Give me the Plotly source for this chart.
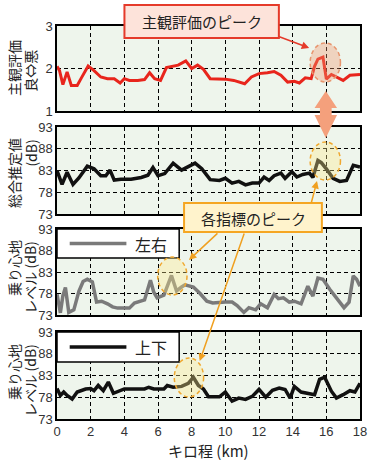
import plotly.graph_objects as go

# ---------------- data ----------------
km_subj = [0, 0.15, 0.35, 0.6, 0.85, 1.2, 1.45, 1.85, 2.2, 2.6, 3.0, 3.4, 3.75, 4.0, 4.3, 4.8,
           5.2, 5.5, 5.8, 6.15, 6.5, 6.9, 7.2, 7.65, 8.0, 8.35, 8.7, 9.1, 9.5, 10.0, 10.5, 10.8,
           11.15, 11.55, 12.0, 12.5, 12.9, 13.3, 13.7, 14.1, 14.4, 14.75, 15.1, 15.3, 15.5, 15.8,
           16.0, 16.3, 16.6, 17.0, 17.4, 18.0]
subj = [2.05, 1.95, 1.62, 1.92, 1.6, 1.6, 1.78, 2.06, 1.95, 1.8, 1.76, 1.76, 1.66, 1.76, 1.72, 1.72,
        1.74, 1.9, 1.76, 1.72, 2.02, 2.06, 2.08, 2.18, 2.0, 2.08, 1.98, 1.76, 1.76, 1.75, 1.72, 1.69,
        1.64, 1.8, 1.88, 1.9, 1.93, 1.84, 1.68, 1.7, 1.66, 1.78, 1.76, 2.05, 2.22, 2.27,
        1.75, 1.86, 1.8, 1.72, 1.84, 1.86]

km_total = [0, 0.3, 0.6, 0.95, 1.3, 1.8, 2.2, 2.6, 2.9, 3.15, 3.4, 3.8, 4.4, 5.0, 5.4, 5.7, 6.0,
            6.4, 6.9, 7.4, 8.2, 8.6, 9.1, 9.65, 10.0, 10.4, 10.8, 11.2, 11.6, 12.0, 12.3, 12.6,
            12.9, 13.3, 13.55, 13.95, 14.25, 14.6, 15.0, 15.2, 15.5, 15.7, 16.0, 16.4, 16.8,
            17.2, 17.6, 18.0]
total = [83.0, 79.8, 82.6, 79.8, 81.3, 84.0, 83.4, 81.8, 81.8, 83.1, 80.8, 81.0, 81.0, 81.4, 81.9,
         83.7, 81.8, 82.3, 84.7, 83.1, 84.7, 83.4, 80.9, 80.7, 81.2, 80.1, 80.5, 79.7, 80.1, 80.1,
         81.5, 80.7, 81.8, 82.4, 81.2, 82.7, 81.5, 82.1, 82.4, 81.4, 85.3, 84.8, 83.4, 81.2, 80.5,
         80.7, 84.2, 83.8]

km_lat = [0, 0.2, 0.35, 0.5, 0.7, 1.0, 1.3, 1.55, 1.8, 2.1, 2.35, 2.65, 3.0, 3.3, 3.6, 4.3, 4.6,
          5.2, 5.55, 5.75, 5.95, 6.35, 6.8, 7.1, 7.4, 7.6, 8.1, 8.5, 8.9, 9.25, 10.0, 10.4, 10.7,
          11.1, 11.4, 11.8, 12.1, 12.5, 12.9, 13.15, 13.45, 13.8, 14.1, 14.5, 14.9, 15.2, 15.5,
          15.8, 16.2, 16.5, 16.8, 17.05, 17.35, 17.6, 17.8, 18.0]
lateral = [77.8, 73.5, 77.5, 79.4, 73.6, 74.2, 78.5, 80.8, 81.3, 80.7, 76.0, 76.2, 75.6, 74.9, 74.6,
           74.6, 75.8, 76.5, 81.1, 78.3, 77.0, 77.6, 82.2, 78.6, 79.5, 80.0, 79.5, 78.0, 76.2, 75.8,
           76.0, 76.0, 75.2, 73.6, 74.7, 74.2, 75.6, 74.7, 77.8, 76.8, 77.0, 76.0, 76.2, 75.6, 79.7,
           77.4, 81.6, 81.3, 79.0, 77.4, 76.0, 74.7, 76.0, 82.1, 81.3, 79.7]

km_vert = [0, 0.2, 0.4, 0.6, 0.9, 1.2, 1.7, 2.0, 2.2, 2.45, 2.75, 3.05, 3.35, 3.7, 4.0, 4.6, 5.2,
           5.45, 5.75, 6.35, 6.55, 6.9, 7.4, 7.8, 8.1, 8.4, 8.7, 9.0, 9.65, 10.0, 10.4, 10.8, 11.2,
           11.6, 12.0, 12.4, 12.8, 13.2, 13.55, 13.85, 14.1, 14.5, 14.9, 15.3, 15.6, 15.9, 16.3,
           16.6, 17.0, 17.4, 17.7, 18.0]
vertical = [80.0, 78.4, 79.2, 78.4, 77.6, 79.2, 79.9, 80.0, 79.5, 80.7, 79.5, 81.5, 78.9, 79.5,
            79.9, 79.9, 79.9, 80.3, 79.9, 79.9, 80.7, 80.3, 80.5, 81.2, 82.6, 80.7, 79.9, 78.1,
            78.1, 79.2, 77.1, 77.8, 77.5, 78.2, 79.8, 78.0, 79.6, 80.1, 79.8, 77.8, 80.5, 79.2,
            78.8, 78.6, 82.1, 82.6, 79.4, 77.8, 78.6, 79.5, 79.2, 81.2]

x_ticks = [0, 2, 4, 6, 8, 10, 12, 14, 16, 18]
subj_ticks = [1, 2, 3]
db_ticks = [73, 78, 83, 88, 93]

# ---------------- layout helpers ----------------
W, H = 376, 465
L, R, T, B = 57, 9, 26, 46
PW = W - L - R
PH = H - T - B


def fx(x):
    return (x - L) / PW


def fy(y):
    return (H - B - y) / PH


panels = [(26, 111), (127, 214), (229, 315), (332, 419)]

JP = "Noto Sans CJK JP"
NUM = "Liberation Sans, Arial, sans-serif"

fig = go.Figure()

series = [
    (km_subj, subj, "#e8251c", 3.0),
    (km_total, total, "#111111", 3.5),
    (km_lat, lateral, "#7a7a7a", 3.5),
    (km_vert, vertical, "#111111", 3.5),
]
for i, (xs, ys, col, w) in enumerate(series, start=1):
    fig.add_trace(go.Scatter(x=xs, y=ys, mode="lines",
                             line=dict(color=col, width=w),
                             xaxis=f"x{i}" if i > 1 else "x",
                             yaxis=f"y{i}" if i > 1 else "y",
                             showlegend=False, hoverinfo="skip"))

grid_common = dict(showline=True, mirror=True, linecolor="black", linewidth=1.5,
                   showgrid=True, gridcolor="black", gridwidth=1.2, griddash="4px,3px",
                   zeroline=False, ticks="", tickfont=dict(family=NUM, size=13, color="#333"))

layout = dict(width=W, height=H, margin=dict(l=L, r=R, t=T, b=B),
              paper_bgcolor="white", plot_bgcolor="#eef5ec", showlegend=False)

for i, (top, bot) in enumerate(panels, start=1):
    xn = "xaxis" if i == 1 else f"xaxis{i}"
    yn = "yaxis" if i == 1 else f"yaxis{i}"
    xa = "x" if i == 1 else f"x{i}"
    ya = "y" if i == 1 else f"y{i}"
    layout[xn] = dict(domain=[0, 1], range=[0, 18], tickvals=x_ticks,
                      showticklabels=(i == 4), anchor=ya, **grid_common)
    if i == 1:
        layout[yn] = dict(domain=[fy(bot), fy(top)], range=[1, 3], tickvals=subj_ticks,
                          anchor=xa, **grid_common)
    else:
        layout[yn] = dict(domain=[fy(bot), fy(top)], range=[73, 93], tickvals=db_ticks,
                          anchor=xa, **grid_common)

fig.update_layout(**layout)

shapes = []
ann = []


def text(x, y, s, size=15, angle=0, color="#222"):
    ann.append(dict(x=fx(x), y=fy(y), xref="paper", yref="paper", text=s, showarrow=False,
                    textangle=angle, xanchor="center", yanchor="middle",
                    font=dict(family=JP, size=size, color=color)))


# y-axis titles
text(13, 68, "主観評価", 14, -90)
text(29, 71, "良⇔悪", 14, -90)
text(13, 173, "総合推定値", 14, -90)
text(30, 153, "(dB)", 14, -90)
text(13, 268, "乗り心地", 14, -90)
text(29, 278, "レベル (dB)", 14, -90)
text(13, 372, "乗り心地", 14, -90)
text(29, 381, "レベル (dB)", 14, -90)
# x-axis title
text(212, 450, "キロ程 (km)", 15)

# legends
for (top, bot, col, lab) in [(229, 258, "#7a7a7a", "左右"), (332, 362, "#111111", "上下")]:
    shapes.append(dict(type="rect", xref="paper", yref="paper", x0=fx(57), x1=fx(182),
                       y0=fy(bot), y1=fy(top), fillcolor="white",
                       line=dict(color="black", width=1.5), layer="above"))
    ym = (top + bot) / 2
    shapes.append(dict(type="line", xref="paper", yref="paper", x0=fx(70), x1=fx(128),
                       y0=fy(ym), y1=fy(ym), line=dict(color=col, width=3.5), layer="above"))
    text(153, ym, lab, 16, 0, "#222")

# ellipses
shapes.append(dict(type="circle", xref="paper", yref="paper", x0=fx(316), x1=fx(347),
                   y0=fy(82), y1=fy(43), fillcolor="rgba(240,150,110,0.35)",
                   line=dict(color="#e8956e", width=1.5, dash="4px,3px"), layer="above"))
for (x0, x1, y0, y1) in [(316, 347, 142, 180), (160, 190, 257, 295), (177, 207, 358, 397)]:
    shapes.append(dict(type="circle", xref="paper", yref="paper", x0=fx(x0), x1=fx(x1),
                       y0=fy(y1), y1=fy(y0), fillcolor="rgba(255,235,140,0.35)",
                       line=dict(color="#f0a830", width=1.5, dash="4px,3px"), layer="above"))

# big double arrow
cx = 332
pts = [(cx, 91), (cx + 11.5, 108), (cx + 6, 108), (cx + 6, 115), (cx + 11.5, 115), (cx, 138),
       (cx - 11.5, 115), (cx - 6, 115), (cx - 6, 108), (cx - 11.5, 108)]
path = "M " + " L ".join(f"{fx(a):.5f},{fy(b):.5f}" for a, b in pts) + " Z"
shapes.append(dict(type="path", xref="paper", yref="paper", path=path,
                   fillcolor="#f4a07c", line=dict(width=0), layer="above"))

# annotation boxes
shapes.append(dict(type="rect", xref="paper", yref="paper", x0=fx(126), x1=fx(284),
                   y0=fy(38), y1=fy(5), fillcolor="#fde3da",
                   line=dict(color="#e53a2a", width=2), layer="above"))
text(205, 22, "主観評価のピーク", 15, 0, "#222")
shapes.append(dict(type="rect", xref="paper", yref="paper", x0=fx(187), x1=fx(328),
                   y0=fy(232), y1=fy(203), fillcolor="#fff3cc",
                   line=dict(color="#f5a623", width=2), layer="above"))
text(258, 218, "各指標のピーク", 15, 0, "#222")


def arrow(tail, head, col):
    ann.append(dict(x=fx(head[0]), y=fy(head[1]), xref="paper", yref="paper",
                    ax=tail[0] - head[0], ay=tail[1] - head[1], text="", showarrow=True,
                    arrowhead=2, arrowsize=1, arrowwidth=1.5, arrowcolor=col))


arrow((283, 36), (315, 48), "#e53a2a")
arrow((317, 204), (323, 181), "#f0a020")
arrow((222, 232), (192, 260), "#f0a020")
arrow((248, 232), (203, 361), "#f0a020")

fig.update_layout(shapes=shapes, annotations=ann)
fig.write_html("out.html", config={"displayModeBar": False},
               post_script="document.body.style.margin='0px';document.body.style.padding='0px';")
